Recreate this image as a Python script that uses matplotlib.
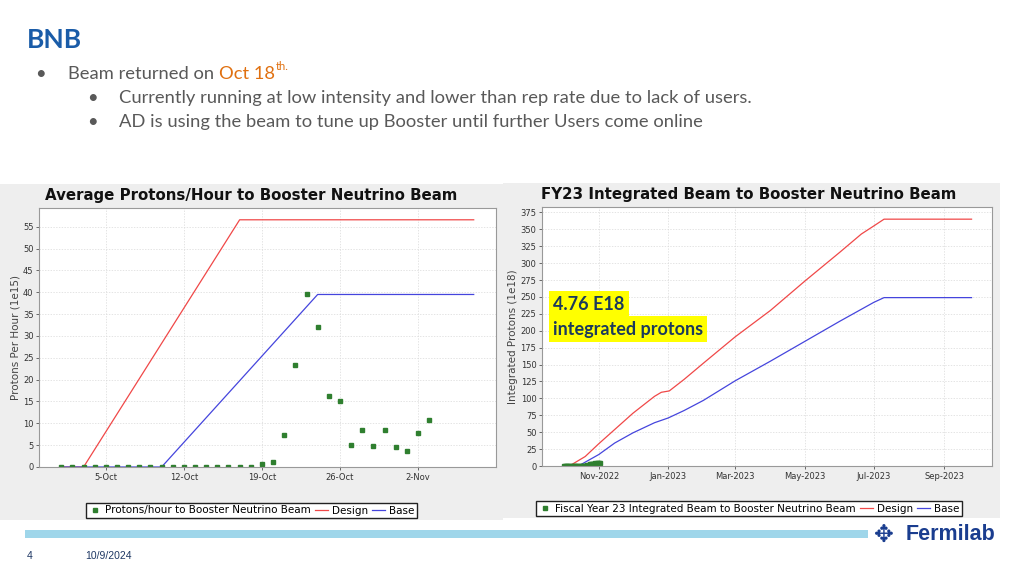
import numpy as np
import matplotlib
matplotlib.use("Agg")
import matplotlib.pyplot as plt
from matplotlib.patches import Rectangle
from matplotlib.lines import Line2D

W, H = 1024, 576

# ---- left chart: average protons/hour (1e15), one point per day
pph_days = np.arange(np.datetime64('2022-10-01'), np.datetime64('2022-11-04'))
pph_vals = [0, 0, 0, 0, 0, 0, 0, 0, 0, 0, 0, 0, 0, 0, 0, 0, 0, 0,
            0.6, 1.1, 7.3, 23.4, 39.6, 32.0, 16.2, 15.2, 5.1, 8.5, 4.9, 8.4,
            4.5, 3.6, 7.8, 10.8]
pph_design_dates = np.array(['2022-10-01', '2022-10-03', '2022-10-17', '2022-11-07'], dtype='datetime64[h]')
pph_design_vals = [0, 0, 56.6, 56.6]
pph_base_dates = np.array(['2022-10-01', '2022-10-10', '2022-10-24', '2022-11-07'], dtype='datetime64[h]')
pph_base_vals = [0, 0, 39.5, 39.5]
left_ticks = np.array(['2022-10-05', '2022-10-12', '2022-10-19', '2022-10-26', '2022-11-02'], dtype='datetime64[D]')
left_ticklabels = ['5-Oct', '12-Oct', '19-Oct', '26-Oct', '2-Nov']

# ---- right chart: FY23 integrated protons (1e18)
int_days = np.arange(np.datetime64('2022-10-01'), np.datetime64('2022-11-03'))
int_vals = [0, 0, 0, 0, 0, 0, 0, 0, 0, 0, 0, 0, 0, 0, 0, 0, 0, 0,
            0.01, 0.04, 0.2, 0.8, 1.7, 2.5, 2.9, 3.2, 3.4, 3.6, 3.7, 3.9,
            4.0, 4.4, 4.76]
int_design_dates = np.array(['2022-10-06', '2022-10-20', '2022-11-01', '2022-11-15', '2022-12-01',
                             '2022-12-20', '2022-12-26', '2023-01-02', '2023-01-15', '2023-02-01',
                             '2023-03-01', '2023-04-01', '2023-05-01', '2023-06-01', '2023-06-20',
                             '2023-07-01', '2023-07-10', '2023-09-25'], dtype='datetime64[D]')
int_design_vals = [0, 14, 33, 54, 78, 103, 109, 111, 128, 152,
                   191, 230, 273, 316, 343, 355, 365, 365]
int_base_dates = np.array(['2022-10-14', '2022-11-01', '2022-11-15', '2022-12-01', '2022-12-20',
                           '2023-01-01', '2023-01-15', '2023-02-01', '2023-03-01', '2023-04-01',
                           '2023-05-01', '2023-06-01', '2023-07-01', '2023-07-10', '2023-09-25'],
                          dtype='datetime64[D]')
int_base_vals = [0, 17, 34, 49, 64, 71, 82, 97, 126, 155, 184, 214, 242, 249, 249]
right_ticks = np.array(['2022-11-01', '2023-01-01', '2023-03-01', '2023-05-01', '2023-07-01', '2023-09-01'],
                       dtype='datetime64[D]')
right_ticklabels = ['Nov-2022', 'Jan-2023', 'Mar-2023', 'May-2023', 'Jul-2023', 'Sep-2023']

RED = '#f04848'
BLUE = '#4545dd'
GREEN = '#2f7f2f'
SLIDE_FONT = 'Lato'


def box(x0, y0, x1, y1):
    """pixel box (top-left origin) -> figure fraction rect"""
    return [x0 / W, 1 - y1 / H, (x1 - x0) / W, (y1 - y0) / H]


def fx(x):
    return x / W


def fy(y):
    return 1 - y / H


fig = plt.figure(figsize=(W / 100, H / 100), dpi=100)
fig.patch.set_facecolor('white')

# chart panels (behind the axes)
for x0, y0, x1, y1 in [(0, 184, 503, 520), (503, 183, 1000, 518)]:
    b = box(x0, y0, x1, y1)
    fig.patches.append(Rectangle((b[0], b[1]), b[2], b[3], transform=fig.transFigure,
                                 facecolor='#eeeeee', edgecolor='none', zorder=-5))


def style_axes(ax):
    ax.set_facecolor('white')
    for s in ax.spines.values():
        s.set_color('#999999')
        s.set_linewidth(0.8)
    ax.tick_params(labelsize=6, colors='#333333', length=2, width=0.5, pad=2)
    ax.grid(True, color='#d9d9d9', lw=0.5, ls=(0, (2, 2)))
    ax.set_axisbelow(True)


# ---- left chart
ax1 = fig.add_axes(box(39, 208, 496, 467))
style_axes(ax1)
ax1.plot(pph_design_dates, pph_design_vals, color=RED, lw=0.9)
ax1.plot(pph_base_dates, pph_base_vals, color=BLUE, lw=0.9)
ax1.plot(pph_days, pph_vals, ls='none', marker='s', ms=3.2, color=GREEN)
ax1.set_xlim(np.datetime64('2022-09-29'), np.datetime64('2022-11-09'))
ax1.set_ylim(0, 59.3)
ax1.set_yticks(np.arange(0, 56, 5))
ax1.set_xticks(left_ticks)
ax1.set_xticklabels(left_ticklabels)
ax1.set_ylabel('Protons Per Hour (1e15)', fontsize=7.5, color='#444444', labelpad=2)
fig.text(fx(251), fy(195), 'Average Protons/Hour to Booster Neutrino Beam',
         ha='center', va='center', fontsize=10.8, fontweight='bold', color='#111111')

h1 = [Line2D([], [], ls='none', marker='s', ms=3.2, color=GREEN),
      Line2D([], [], color=RED, lw=0.9), Line2D([], [], color=BLUE, lw=0.9)]
fig.legend(h1, ['Protons/hour to Booster Neutrino Beam', 'Design', 'Base'],
           loc='center', bbox_to_anchor=(fx(251.5), fy(510.5)), ncol=3, fontsize=7.5,
           frameon=True, fancybox=False, edgecolor='#222222', framealpha=1,
           handlelength=1.2, handletextpad=0.4, columnspacing=0.4,
           borderpad=0.25, borderaxespad=0)

# ---- right chart
ax2 = fig.add_axes(box(542, 207, 992, 466))
style_axes(ax2)
ax2.plot(int_design_dates, int_design_vals, color=RED, lw=0.9)
ax2.plot(int_base_dates, int_base_vals, color=BLUE, lw=0.9)
ax2.plot(int_days, int_vals, ls='none', marker='s', ms=3.2, color=GREEN)
ax2.set_xlim(np.datetime64('2022-09-12'), np.datetime64('2023-10-13'))
ax2.set_ylim(0, 383)
ax2.set_yticks(np.arange(0, 376, 25))
ax2.set_xticks(right_ticks)
ax2.set_xticklabels(right_ticklabels)
ax2.set_ylabel('Integrated Protons (1e18)', fontsize=7.5, color='#444444', labelpad=2)
fig.text(fx(749), fy(194), 'FY23 Integrated Beam to Booster Neutrino Beam',
         ha='center', va='center', fontsize=10.8, fontweight='bold', color='#111111')

h2 = [Line2D([], [], ls='none', marker='s', ms=3.2, color=GREEN),
      Line2D([], [], color=RED, lw=0.9), Line2D([], [], color=BLUE, lw=0.9)]
fig.legend(h2, ['Fiscal Year 23 Integrated Beam to Booster Neutrino Beam', 'Design', 'Base'],
           loc='center', bbox_to_anchor=(fx(749), fy(508.5)), ncol=3, fontsize=7.5,
           frameon=True, fancybox=False, edgecolor='#222222', framealpha=1,
           handlelength=1.2, handletextpad=0.4, columnspacing=0.4,
           borderpad=0.25, borderaxespad=0)

# highlighted note on the right chart
note_kw = dict(fontsize=13, fontweight='bold', color='#1b3a5c', family=SLIDE_FONT,
               ha='left', va='center', zorder=10)
fig.text(fx(553), fy(304), '4.76 E18', bbox=dict(facecolor='#ffff00', edgecolor='none', pad=3), **note_kw)
fig.text(fx(553), fy(329), 'integrated protons', bbox=dict(facecolor='#ffff00', edgecolor='none', pad=3), **note_kw)

# ---- slide header
fig.text(fx(27), fy(40), 'BNB', fontsize=19, fontweight='bold', color='#1a5ca8',
         family=SLIDE_FONT, ha='left', va='center')
txt_kw = dict(fontsize=13.2, color='#595959', family=SLIDE_FONT, ha='left', va='center')
fig.text(fx(35), fy(74), '•', **txt_kw)
fig.text(fx(68), fy(74), 'Beam returned on', **txt_kw)
oct_txt = fig.text(fx(219), fy(74), 'Oct 18', fontsize=13.2, color='#e07010',
                   family=SLIDE_FONT, ha='left', va='center')
# superscript goes right after "Oct 18"
renderer = fig.canvas.get_renderer()
oct_end = oct_txt.get_window_extent(renderer).x1
fig.text((oct_end + 1) / W, fy(67), 'th.', fontsize=8, color='#e07010', family=SLIDE_FONT,
         ha='left', va='center')
fig.text(fx(87), fy(98), '•', **txt_kw)
fig.text(fx(119), fy(98), 'Currently running at low intensity and lower than rep rate due to lack of users.', **txt_kw)
fig.text(fx(87), fy(122), '•', **txt_kw)
fig.text(fx(119), fy(122), 'AD is using the beam to tune up Booster until further Users come online', **txt_kw)

# ---- footer
b = box(25, 530, 868, 538)
fig.patches.append(Rectangle((b[0], b[1]), b[2], b[3], transform=fig.transFigure,
                             facecolor='#9fd6ea', edgecolor='none', zorder=-5))
fig.text(fx(27), fy(556), '4', fontsize=7.5, color='#1f3864', family='Liberation Sans', ha='left', va='center')
fig.text(fx(85), fy(556), '10/9/2024', fontsize=7.5, color='#1f3864', family='Liberation Sans', ha='left', va='center')
fig.text(fx(874), fy(535), '\u2725', fontsize=17, color='#1a3d8f', family='DejaVu Sans', ha='left', va='center')
fig.text(fx(906), fy(535), 'Fermilab', fontsize=15.5, fontweight='bold', color='#1a3d8f',
         family='Liberation Sans', ha='left', va='center')

fig.savefig('out.png', dpi=100)
